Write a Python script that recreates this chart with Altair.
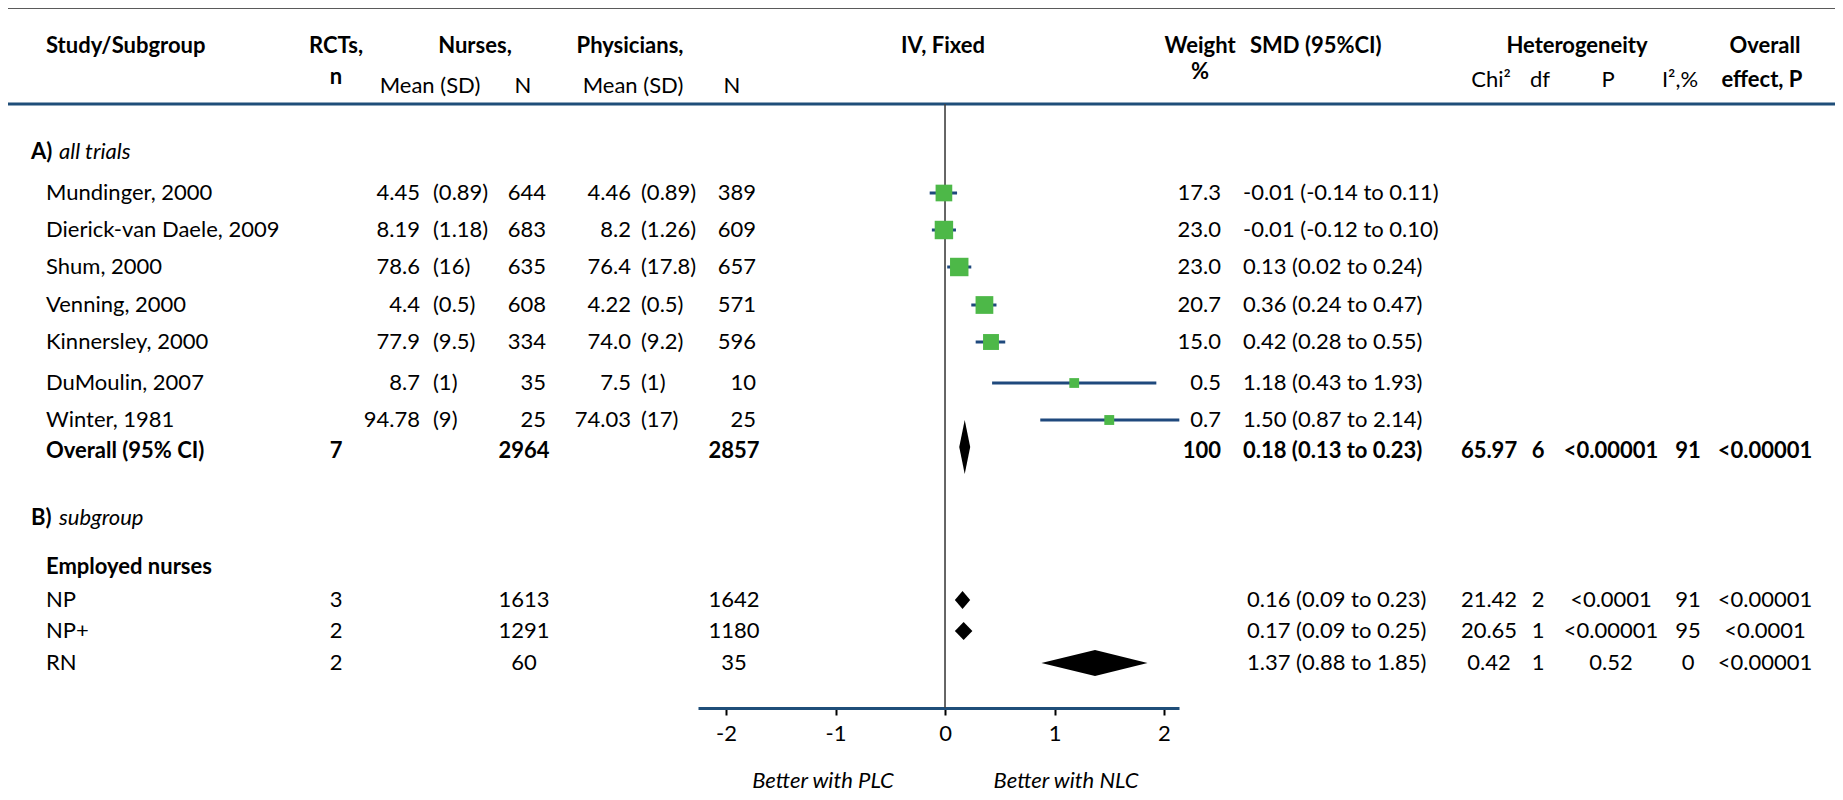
import altair as alt
import pandas as pd

# ---------------- data ----------------
studies = ["Mundinger, 2000", "Dierick-van Daele, 2009", "Shum, 2000", "Venning, 2000",
           "Kinnersley, 2000", "DuMoulin, 2007", "Winter, 1981"]
nurse_mean = ["4.45", "8.19", "78.6", "4.4", "77.9", "8.7", "94.78"]
nurse_sd = ["(0.89)", "(1.18)", "(16)", "(0.5)", "(9.5)", "(1)", "(9)"]
nurse_n = [644, 683, 635, 608, 334, 35, 25]
phys_mean = ["4.46", "8.2", "76.4", "4.22", "74.0", "7.5", "74.03"]
phys_sd = ["(0.89)", "(1.26)", "(17.8)", "(0.5)", "(9.2)", "(1)", "(17)"]
phys_n = [389, 609, 657, 571, 596, 10, 25]
weight = [17.3, 23.0, 23.0, 20.7, 15.0, 0.5, 0.7]
smd = [-0.01, -0.01, 0.13, 0.36, 0.42, 1.18, 1.50]
smd_lo = [-0.14, -0.12, 0.02, 0.24, 0.28, 0.43, 0.87]
smd_hi = [0.11, 0.10, 0.24, 0.47, 0.55, 1.93, 2.14]

overall_label = "Overall (95% CI)"
overall_rcts = 7
overall_nurse_n = 2964
overall_phys_n = 2857
overall_weight = "100"
overall_smd, overall_lo, overall_hi = 0.18, 0.13, 0.23
overall_chi2, overall_df, overall_p, overall_i2, overall_effect = "65.97", 6, "<0.00001", 91, "<0.00001"

subgroup_title = "Employed nurses"
subgroups = ["NP", "NP+", "RN"]
sub_rcts = [3, 2, 2]
sub_nurse_n = [1613, 1291, 60]
sub_phys_n = [1642, 1180, 35]
sub_smd = [0.16, 0.17, 1.37]
sub_lo = [0.09, 0.09, 0.88]
sub_hi = [0.23, 0.25, 1.85]
sub_chi2 = ["21.42", "20.65", "0.42"]
sub_df = [2, 1, 1]
sub_p = ["<0.0001", "<0.00001", "0.52"]
sub_i2 = [91, 95, 0]
sub_effect = ["<0.00001", "<0.0001", "<0.00001"]

x_ticks = [-2, -1, 0, 1, 2]

# ---------------- layout / style ----------------
FONT = "Lato"
FS = 22
W, H = 1827, 700          # plot area (page offset 8 px)
OFF = 8

ROW_HEAD1 = 46
ROW_HEAD_N, ROW_HEAD_PCT = 77, 72
ROW_HEAD2_L, ROW_HEAD2_R = 86, 80
ROW_TOPLINE, ROW_BLUELINE = 8, 104
ROW_A = 152
ROW_STUDY = [193, 230, 267, 305, 342, 383, 420]
ROW_OVERALL = 451
ROW_OVERALL_DIAMOND = 447
ROW_B = 518
ROW_EMP = 567
ROW_SUB = [600, 631, 663]
ROW_AXIS = 708
ROW_FOOT = 781

COL = dict(label=46, section=31, section_txt=59, rcts=336,
           nmean=420, nsd=433, nN_r=546, nN_c=524,
           pmean=631, psd=641, pN_r=756, pN_c=734,
           weight=1221, smd=1243, smd_sub=1247,
           chi=1489, df=1538, p=1611, i2=1688, eff=1765)

YS = alt.Scale(domain=[0, H], reverse=True, nice=False, zero=False)
XS = alt.Scale(domain=[-2.256, 2.137], range=[690, 1171], nice=False, zero=False)
AX = alt.Axis(values=x_ticks, title=None, grid=False, domainColor="#1F4E79", domainWidth=3,
              tickColor="black", tickWidth=2, tickSize=7, labelFont=FONT, labelFontSize=FS,
              labelColor="black", labelPadding=8, labelFlush=False,
              labelExpr="'' + datum.value")

cells = []


def cell(t, x, y, align="left", fw="normal", fst="normal"):
    cells.append(dict(t=str(t), x=x, y=y - OFF, align=align, fw=fw, fst=fst))


# headers
cell("Study/Subgroup", COL["label"], ROW_HEAD1, "left", "bold")
cell("RCTs,", COL["rcts"], ROW_HEAD1, "center", "bold")
cell("n", COL["rcts"], ROW_HEAD_N, "center", "bold")
cell("Nurses,", 475, ROW_HEAD1, "center", "bold")
cell("Physicians,", 630, ROW_HEAD1, "center", "bold")
cell("Mean (SD)", 430, ROW_HEAD2_L, "center")
cell("N", 523, ROW_HEAD2_L, "center")
cell("Mean  (SD)", 633, ROW_HEAD2_L, "center")
cell("N", 732, ROW_HEAD2_L, "center")
cell("IV, Fixed", 943, ROW_HEAD1, "center", "bold")
cell("Weight", 1200, ROW_HEAD1, "center", "bold")
cell("%", 1200, ROW_HEAD_PCT, "center", "bold")
cell("SMD (95%CI)", 1250, ROW_HEAD1, "left", "bold")
cell("Heterogeneity", 1577, ROW_HEAD1, "center", "bold")
cell("Overall", 1765, ROW_HEAD1, "center", "bold")
cell("Chi²", 1491, ROW_HEAD2_R, "center")
cell("df", 1540, ROW_HEAD2_R, "center")
cell("P", 1608, ROW_HEAD2_R, "center")
cell("I²,%", 1680, ROW_HEAD2_R, "center")
cell("effect, P", 1762, ROW_HEAD2_R, "center", "bold")

# sections
cell("A)", COL["section"], ROW_A, "left", "bold")
cell("all trials", COL["section_txt"], ROW_A, "left", "normal", "italic")
cell("B)", COL["section"], ROW_B, "left", "bold")
cell("subgroup", COL["section_txt"], ROW_B, "left", "normal", "italic")


def fmt_ci(e, l, h):
    return f"{e:.2f} ({l:.2f} to {h:.2f})"


for i, s in enumerate(studies):
    y = ROW_STUDY[i]
    cell(s, COL["label"], y)
    cell(nurse_mean[i], COL["nmean"], y, "right")
    cell(nurse_sd[i], COL["nsd"], y)
    cell(nurse_n[i], COL["nN_r"], y, "right")
    cell(phys_mean[i], COL["pmean"], y, "right")
    cell(phys_sd[i], COL["psd"], y)
    cell(phys_n[i], COL["pN_r"], y, "right")
    cell(f"{weight[i]:.1f}", COL["weight"], y, "right")
    cell(fmt_ci(smd[i], smd_lo[i], smd_hi[i]), COL["smd"], y)

y = ROW_OVERALL
cell(overall_label, COL["label"], y, "left", "bold")
cell(overall_rcts, COL["rcts"], y, "center", "bold")
cell(overall_nurse_n, COL["nN_c"], y, "center", "bold")
cell(overall_phys_n, COL["pN_c"], y, "center", "bold")
cell(overall_weight, COL["weight"], y, "right", "bold")
cell(fmt_ci(overall_smd, overall_lo, overall_hi), COL["smd"], y, "left", "bold")
cell(overall_chi2, COL["chi"], y, "center", "bold")
cell(overall_df, COL["df"], y, "center", "bold")
cell(overall_p, COL["p"], y, "center", "bold")
cell(overall_i2, COL["i2"], y, "center", "bold")
cell(overall_effect, COL["eff"], y, "center", "bold")

cell(subgroup_title, COL["label"], ROW_EMP, "left", "bold")
for i, s in enumerate(subgroups):
    y = ROW_SUB[i]
    cell(s, COL["label"], y)
    cell(sub_rcts[i], COL["rcts"], y, "center")
    cell(sub_nurse_n[i], COL["nN_c"], y, "center")
    cell(sub_phys_n[i], COL["pN_c"], y, "center")
    cell(fmt_ci(sub_smd[i], sub_lo[i], sub_hi[i]), COL["smd_sub"], y)
    cell(sub_chi2[i], COL["chi"], y, "center")
    cell(sub_df[i], COL["df"], y, "center")
    cell(sub_p[i], COL["p"], y, "center")
    cell(sub_i2[i], COL["i2"], y, "center")
    cell(sub_effect[i], COL["eff"], y, "center")

cell("Better with PLC", 823, ROW_FOOT, "center", "normal", "italic")
cell("Better with NLC", 1066, ROW_FOOT, "center", "normal", "italic")

cells_df = pd.DataFrame(cells)

layers = []

# horizontal header rules
top_rule = alt.Chart(pd.DataFrame({"y": [ROW_TOPLINE - OFF]})).mark_rule(
    color="#5a5a5a", strokeWidth=2).encode(
    x=alt.value(0), x2=alt.value(W), y=alt.Y("y:Q", scale=YS, axis=None))
blue_rule = alt.Chart(pd.DataFrame({"y": [ROW_BLUELINE - OFF]})).mark_rule(
    color="#1F4E79", strokeWidth=3).encode(
    x=alt.value(0), x2=alt.value(W), y=alt.Y("y:Q", scale=YS, axis=None))
layers += [top_rule, blue_rule]

# zero line
zero_df = pd.DataFrame({"x": [0], "y1": [ROW_BLUELINE - OFF], "y2": [ROW_AXIS - OFF]})
zero_line = alt.Chart(zero_df).mark_rule(color="#404040", strokeWidth=1.6).encode(
    x=alt.X("x:Q", scale=XS, axis=AX), y=alt.Y("y1:Q", scale=YS, axis=None), y2="y2:Q")
layers.append(zero_line)

# study CIs and squares
forest_df = pd.DataFrame({"study": studies, "smd": smd, "lo": smd_lo, "hi": smd_hi,
                          "w": weight, "y": [r - OFF for r in ROW_STUDY]})
ci = alt.Chart(forest_df).mark_rule(color="#1F497D", strokeWidth=3).encode(
    x=alt.X("lo:Q", scale=XS, axis=AX), x2="hi:Q", y=alt.Y("y:Q", scale=YS, axis=None))
sq = alt.Chart(forest_df).mark_square(color="#4DB848", opacity=1, filled=True).encode(
    x=alt.X("smd:Q", scale=XS, axis=AX), y=alt.Y("y:Q", scale=YS, axis=None),
    size=alt.Size("w:Q", scale=alt.Scale(domain=[0, 23], range=[90, 340]), legend=None))
layers += [ci, sq]

# diamonds (pooled estimates)
dia_names = ["Overall"] + subgroups
dia_est = [overall_smd] + sub_smd
dia_lo = [overall_lo] + sub_lo
dia_hi = [overall_hi] + sub_hi
dia_center = [ROW_OVERALL_DIAMOND] + ROW_SUB
dia_half = [27, 9, 9, 13]
drows = []
for n, e, l, h, c, hh in zip(dia_names, dia_est, dia_lo, dia_hi, dia_center, dia_half):
    c = c - OFF
    drows += [dict(d=n, x=l, yt=c, yb=c), dict(d=n, x=e, yt=c - hh, yb=c + hh),
              dict(d=n, x=h, yt=c, yb=c)]
dia = alt.Chart(pd.DataFrame(drows)).mark_area(color="black", orient="vertical",
                                               interpolate="linear").encode(
    x=alt.X("x:Q", scale=XS, axis=AX), y=alt.Y("yt:Q", scale=YS, axis=None), y2="yb:Q",
    detail="d:N")
layers.append(dia)

# text cells
for (x, align, fw, fst), g in cells_df.groupby(["x", "align", "fw", "fst"]):
    layers.append(alt.Chart(g).mark_text(
        align=align, baseline="middle", font=FONT, fontSize=FS, fontWeight=fw,
        fontStyle=fst, color="black").encode(
        x=alt.value(int(x) - OFF), y=alt.Y("y:Q", scale=YS, axis=None), text="t:N"))

chart = alt.layer(*layers).properties(
    width=W, height=H,
    padding={"left": 0, "top": 0, "right": 0, "bottom": 84},
    autosize=alt.AutoSizeParams(type="none"),
    background="white",
).configure_view(stroke=None)

chart.save("out.html", embed_options={"renderer": "svg", "actions": False})
